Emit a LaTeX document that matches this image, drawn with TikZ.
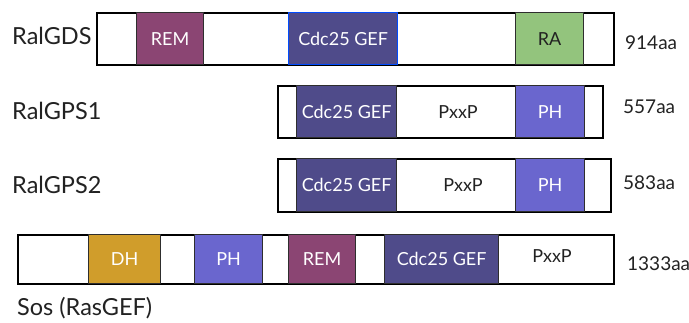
\documentclass[tikz,border=0pt]{standalone}
\usepackage{fontspec}
\setmainfont{Lato}
\usetikzlibrary{positioning}

\definecolor{remcol}{HTML}{8B4573}
\definecolor{gefcol}{HTML}{4F4B8A}
\definecolor{racol}{HTML}{93C47D}
\definecolor{phcol}{HTML}{6A66CE}
\definecolor{dhcol}{HTML}{D09D2B}
\definecolor{edgecol}{HTML}{2E2E2E}
\definecolor{txtcol}{HTML}{222222}

\tikzset{
	protein/.style={draw=black,line width=2pt,fill=white,inner sep=0pt,anchor=north west},
	protdomain/.style={draw=edgecol,line width=1.3pt,inner sep=0pt,anchor=north west,
		text=white,font=\fontsize{18}{18}\selectfont},
	protname/.style={anchor=west,inner sep=0pt,text=txtcol,font=\fontsize{23.5}{23.5}\selectfont},
	protlen/.style={anchor=west,inner sep=0pt,text=txtcol,font=\fontsize{19}{19}\selectfont},
	motiftext/.style={inner sep=0pt,text=txtcol,font=\fontsize{18}{18}\selectfont}
}

\begin{document}
\begin{tikzpicture}[x=1pt,y=-1pt]

	\useasboundingbox[fill=white] (0,0) rectangle (689,323);

	% RalGDS
	\node[protein,minimum width=517pt,minimum height=52pt] (gds) at (96,12) {};
	\node[protdomain,fill=remcol,minimum width=67pt,minimum height=52pt] (gdsrem) at (136,12) {REM};
	\node[protdomain,fill=gefcol,draw=blue!70!cyan,minimum width=109pt,minimum height=52pt] (gdsgef) at (288,12) {Cdc25 GEF};
	\node[protdomain,fill=racol,text=txtcol,minimum width=68pt,minimum height=52pt] (gdsra) at (515,12) {RA};
	\node[protname] (gdsname) at (12,36) {RalGDS};
	\node[protlen] (gdslen) at (625,43) {914aa};

	% RalGPS1
	\node[protein,minimum width=325pt,minimum height=52pt] (gps1) at (277,85) {};
	\node[protdomain,fill=gefcol,minimum width=100pt,minimum height=52pt] (gps1gef) at (296,85) {Cdc25 GEF};
	\node[motiftext] (gps1pxxp) at (458,112) {PxxP};
	\node[protdomain,fill=phcol,minimum width=69pt,minimum height=52pt] (gps1ph) at (515,85) {PH};
	\node[protname] (gps1name) at (12,110.5) {RalGPS1};
	\node[protlen] (gps1len) at (623,107) {557aa};

	% RalGPS2
	\node[protein,minimum width=333pt,minimum height=53pt] (gps2) at (277,158) {};
	\node[protdomain,fill=gefcol,minimum width=100pt,minimum height=53pt] (gps2gef) at (296,158) {Cdc25 GEF};
	\node[motiftext] (gps2pxxp) at (463,185) {PxxP};
	\node[protdomain,fill=phcol,minimum width=69pt,minimum height=53pt] (gps2ph) at (515,158) {PH};
	\node[protname] (gps2name) at (12,185) {RalGPS2};
	\node[protlen] (gps2len) at (623,183) {583aa};

	% Sos
	\node[protein,minimum width=596pt,minimum height=49pt] (sos) at (17,234) {};
	\node[protdomain,fill=dhcol,minimum width=72pt,minimum height=49pt] (sosdh) at (88,234) {DH};
	\node[protdomain,fill=phcol,minimum width=68pt,minimum height=49pt] (sosph) at (194,234) {PH};
	\node[protdomain,fill=remcol,minimum width=67pt,minimum height=49pt] (sosrem) at (288,234) {REM};
	\node[protdomain,fill=gefcol,minimum width=114pt,minimum height=49pt] (sosgef) at (384,234) {Cdc25 GEF};
	\node[motiftext] (sospxxp) at (552,256) {PxxP};
	\node[protname] (sosname) at (17,308) {Sos (RasGEF)};
	\node[protlen] (soslen) at (627,263.5) {1333aa};

\end{tikzpicture}
\end{document}
